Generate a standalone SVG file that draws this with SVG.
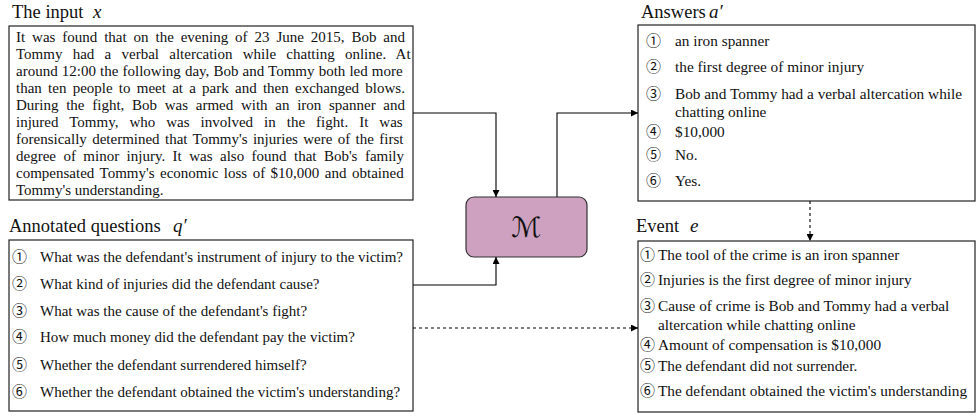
<svg xmlns="http://www.w3.org/2000/svg" width="976" height="417" viewBox="0 0 976 417">
<style>
.box{fill:#fff;stroke:#222;stroke-width:1.2}
.t{font-family:"Liberation Serif","Times New Roman",serif;font-size:15px;fill:#111}
.it{font-family:"Liberation Serif","Times New Roman",serif;font-size:15.3px;fill:#111}
.title{font-family:"Liberation Serif","Times New Roman",serif;font-size:18.5px;fill:#111}
.math{font-family:"Liberation Serif","Times New Roman",serif;font-style:italic;font-size:19px;fill:#111}
.num{font-family:"Noto Sans CJK SC","Noto Sans CJK JP",sans-serif;font-size:15px;fill:#111}
.conn{fill:none;stroke:#000;stroke-width:1.1}
.dash{stroke-dasharray:3,3}
</style>
<defs>
<marker id="arr" viewBox="0 0 10 10" refX="10" refY="5" markerWidth="7" markerHeight="7" markerUnits="userSpaceOnUse" orient="auto">
<path d="M0,0 L10,5 L0,10 Z" fill="#000"/>
</marker>
</defs>

<g id="node-input">
<text class="title" x="12" y="18">The input</text>
<text class="math" x="93" y="18">x</text>
<rect class="box" x="9" y="26" width="404" height="174"/>
<text class="t" x="16" y="42" style="word-spacing:3.15px">It was found that on the evening of 23 June 2015, Bob and</text>
<text class="t" x="16" y="59" style="word-spacing:6.5px">Tommy had a verbal altercation while chatting online. At</text>
<text class="t" x="16" y="76" style="word-spacing:0.36px">around 12:00 the following day, Bob and Tommy both led more</text>
<text class="t" x="16" y="93" style="word-spacing:2.49px">than ten people to meet at a park and then exchanged blows.</text>
<text class="t" x="16" y="110" style="word-spacing:3.95px">During the fight, Bob was armed with an iron spanner and</text>
<text class="t" x="16" y="127" style="word-spacing:7.25px">injured Tommy, who was involved in the fight. It was</text>
<text class="t" x="16" y="144" style="word-spacing:1.6px">forensically determined that Tommy's injuries were of the first</text>
<text class="t" x="16" y="161" style="word-spacing:3.68px">degree of minor injury. It was also found that Bob's family</text>
<text class="t" x="16" y="178" style="word-spacing:1.74px">compensated Tommy's economic loss of $10,000 and obtained</text>
<text class="t" x="16" y="195">Tommy's understanding.</text>
</g>

<g id="node-questions">
<text class="title" x="9" y="232">Annotated questions</text>
<text class="math" x="173" y="232">q′</text>
<rect class="box" x="9" y="240" width="404" height="171"/>
<text class="num" x="12" y="262">①</text><text class="t" x="40" y="262">What was the defendant's instrument of injury to the victim?</text>
<text class="num" x="12" y="289">②</text><text class="t" x="40" y="289">What kind of injuries did the defendant cause?</text>
<text class="num" x="12" y="316">③</text><text class="t" x="40" y="316">What was the cause of the defendant's fight?</text>
<text class="num" x="12" y="342">④</text><text class="t" x="40" y="342">How much money did the defendant pay the victim?</text>
<text class="num" x="12" y="370">⑤</text><text class="t" x="40" y="370">Whether the defendant surrendered himself?</text>
<text class="num" x="12" y="397">⑥</text><text class="t" x="40" y="397">Whether the defendant obtained the victim's understanding?</text>
</g>

<g id="node-model">
<rect x="466" y="197" width="121" height="60" rx="8" ry="8" fill="#cda1bf" stroke="#333" stroke-width="1.2"/>
<text x="526.5" y="237" text-anchor="middle" style="font-family:'DejaVu Serif','DejaVu Sans',serif;font-size:28px;fill:#111">ℳ</text>
</g>

<g id="node-answers">
<text class="title" x="641" y="18">Answers</text>
<text class="math" x="709" y="18">a′</text>
<rect class="box" x="638" y="25" width="337" height="176"/>
<text class="num" x="646" y="46">①</text><text class="it" x="675" y="46">an iron spanner</text>
<text class="num" x="646" y="72">②</text><text class="it" x="675" y="72">the first degree of minor injury</text>
<text class="num" x="646" y="99">③</text><text class="it" x="675" y="99">Bob and Tommy had a verbal altercation while</text>
<text class="it" x="675" y="117">chatting online</text>
<text class="num" x="646" y="137">④</text><text class="it" x="675" y="137">$10,000</text>
<text class="num" x="646" y="160">⑤</text><text class="it" x="675" y="160">No.</text>
<text class="num" x="646" y="186">⑥</text><text class="it" x="675" y="186">Yes.</text>
</g>

<g id="node-event">
<text class="title" x="636" y="232">Event</text>
<text class="math" x="690" y="232">e</text>
<rect class="box" x="638" y="241" width="337" height="171"/>
<text class="num" x="640" y="260">①</text><text class="it" x="658" y="260">The tool of the crime is an iron spanner</text>
<text class="num" x="640" y="285">②</text><text class="it" x="658" y="285">Injuries is the first degree of minor injury</text>
<text class="num" x="640" y="311">③</text><text class="it" x="658" y="311">Cause of crime is Bob and Tommy had a verbal</text>
<text class="it" x="658" y="330">altercation while chatting online</text>
<text class="num" x="640" y="350">④</text><text class="it" x="658" y="350">Amount of compensation is $10,000</text>
<text class="num" x="640" y="371">⑤</text><text class="it" x="658" y="371">The defendant did not surrender.</text>
<text class="num" x="640" y="396">⑥</text><text class="it" x="658" y="396">The defendant obtained the victim's understanding</text>
</g>

<g id="connectors">
<path class="conn" d="M413,113 H496 V197" marker-end="url(#arr)"/>
<path class="conn" d="M413,285 H496 V257" marker-end="url(#arr)"/>
<path class="conn" d="M557,197 V113 H638" marker-end="url(#arr)"/>
<path class="conn dash" d="M810,201 V241" marker-end="url(#arr)"/>
<path class="conn dash" d="M413,328 H638" marker-end="url(#arr)"/>
</g>
</svg>
